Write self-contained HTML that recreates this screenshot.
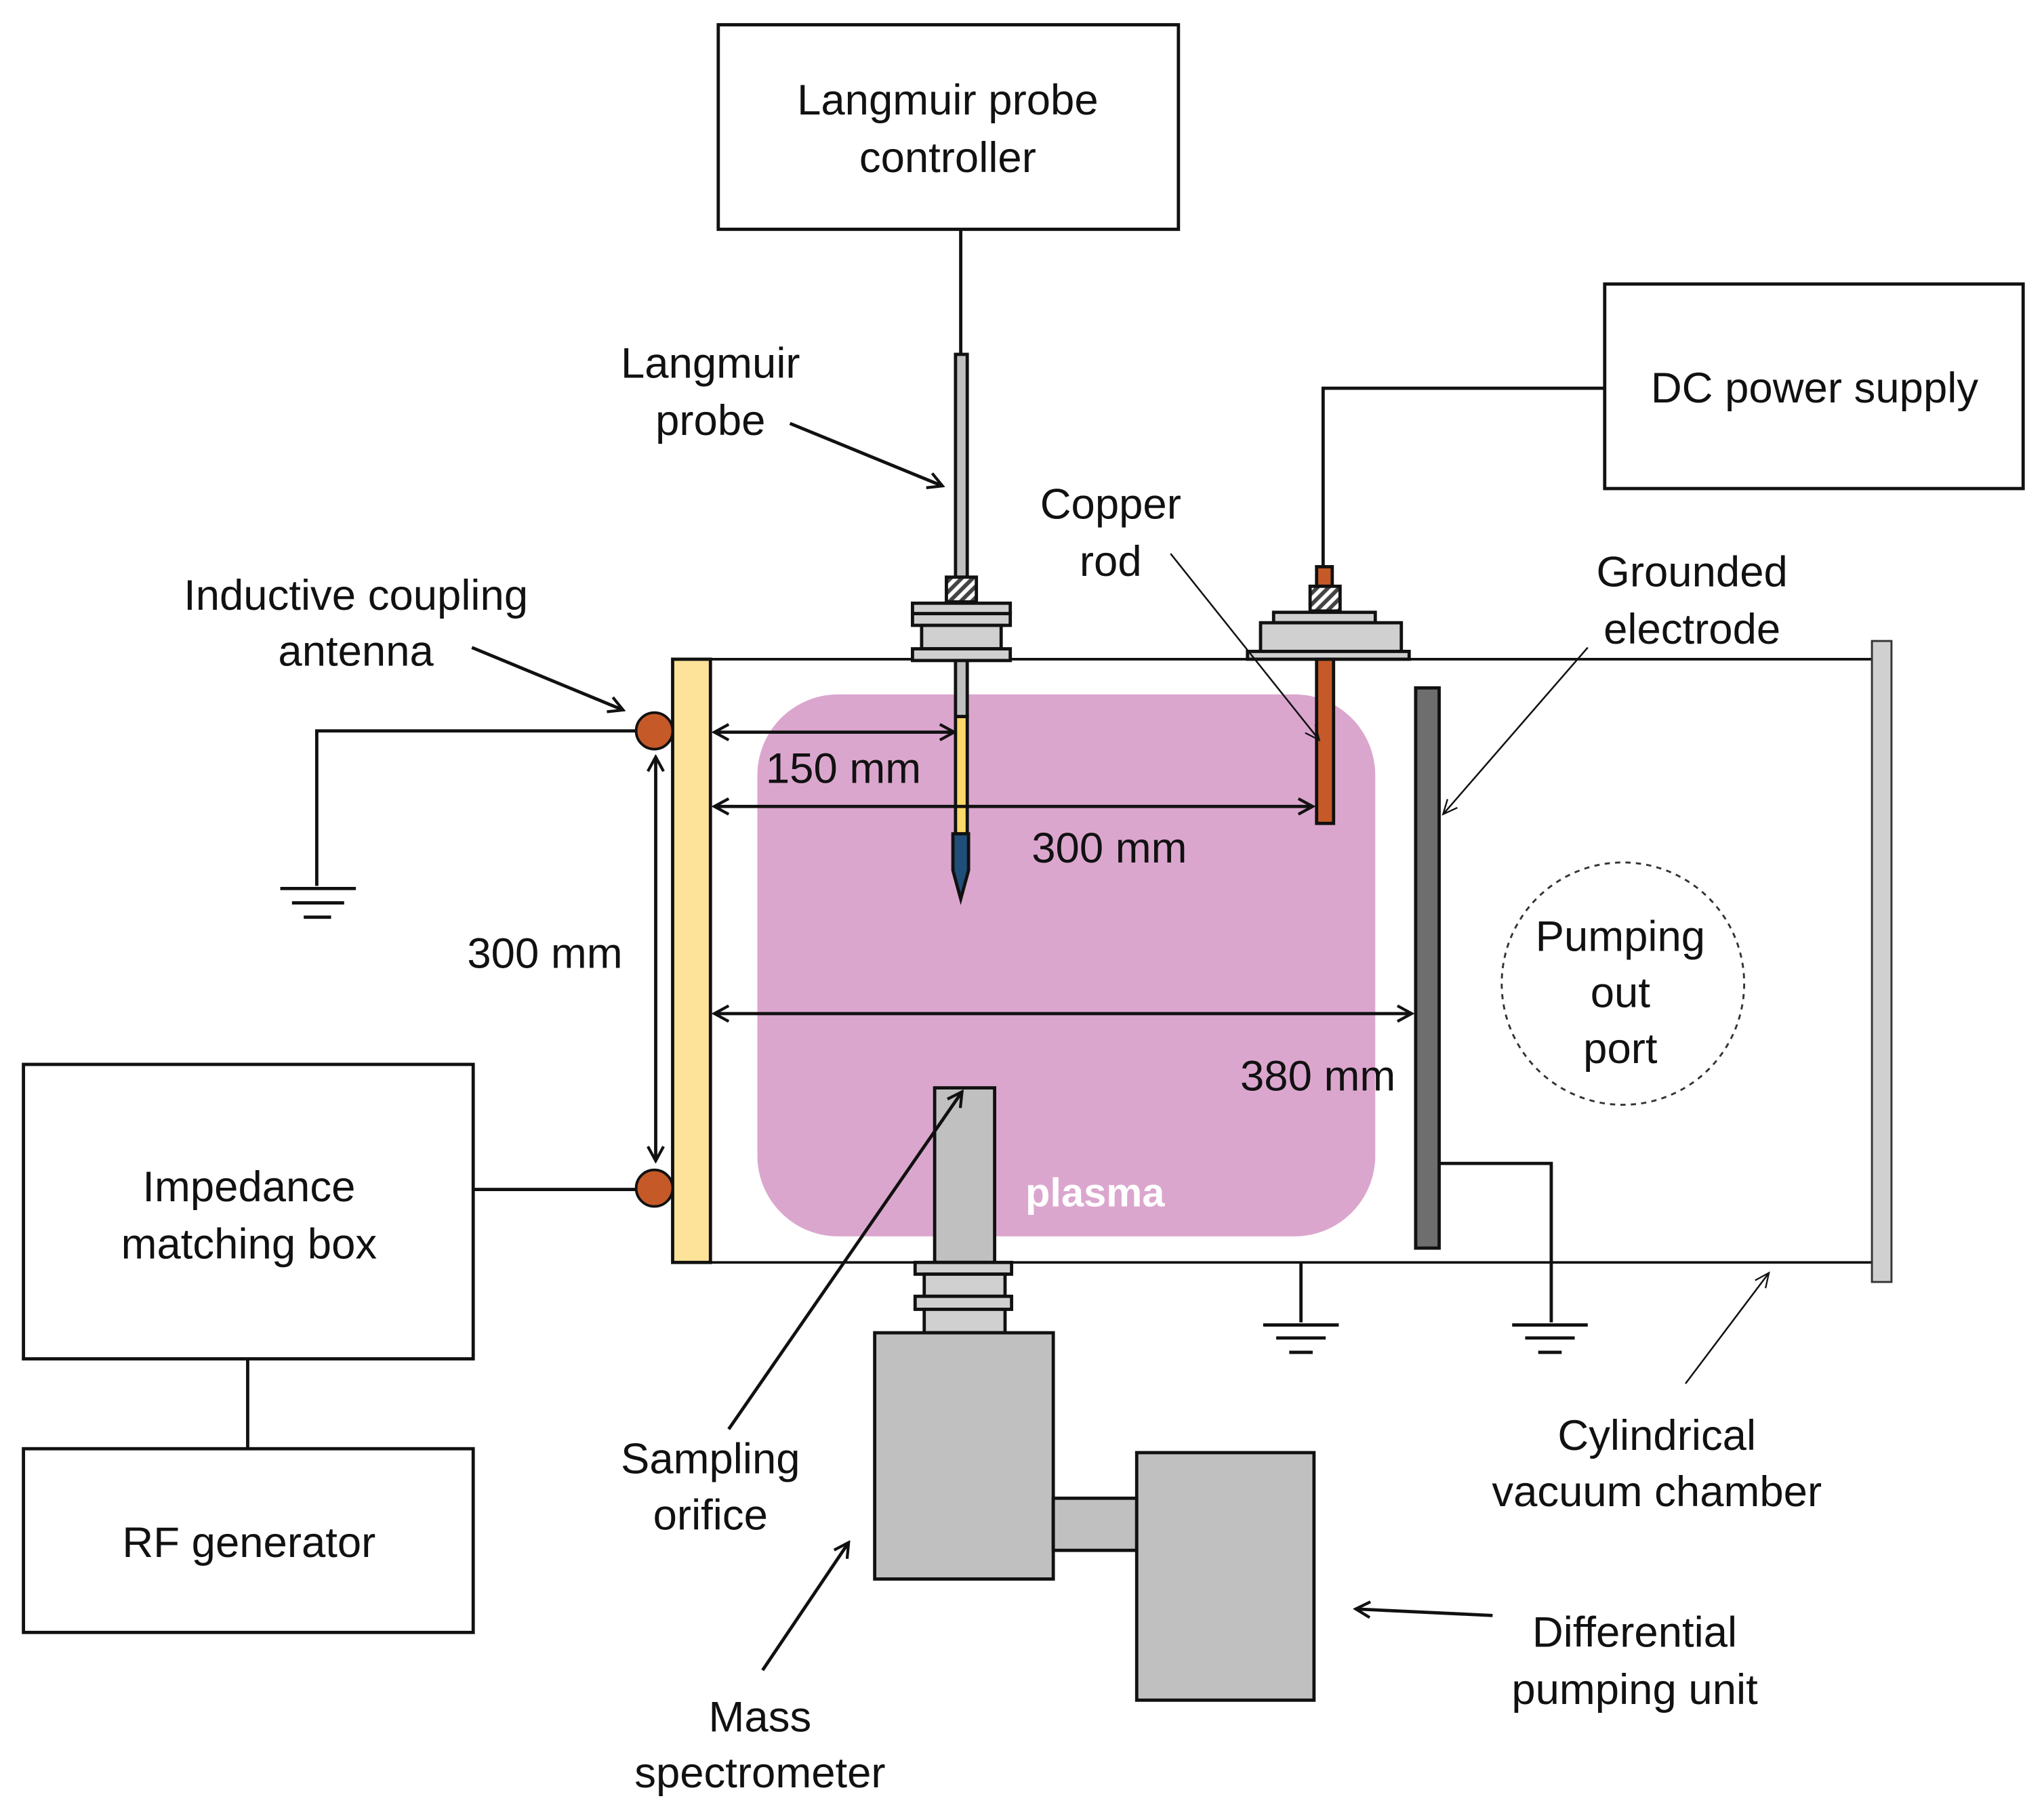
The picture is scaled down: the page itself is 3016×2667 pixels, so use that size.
<!DOCTYPE html>
<html><head><meta charset="utf-8"><style>
html,body{margin:0;padding:0;background:#fff}
svg{display:block}
text{font-family:"Liberation Sans",Arial,sans-serif;font-size:33px;fill:#111;text-anchor:middle}
</style></head><body>
<svg width="3016" height="2667" viewBox="0 0 1568 1387" preserveAspectRatio="none" xmlns="http://www.w3.org/2000/svg">
<defs>
<marker id="a" markerWidth="14" markerHeight="14" refX="12" refY="7" orient="auto-start-reverse" markerUnits="userSpaceOnUse"><path d="M1,1 L12,7 L1,13" fill="none" stroke="#111" stroke-width="2.2"/></marker>
<marker id="b" markerWidth="14" markerHeight="14" refX="12" refY="7" orient="auto" markerUnits="userSpaceOnUse"><path d="M1,2 L12,7 L1,12" fill="none" stroke="#111" stroke-width="1.2"/></marker>
<pattern id="h" width="6" height="6" patternUnits="userSpaceOnUse" patternTransform="rotate(45)"><rect width="6" height="6" fill="#fff"/><rect width="3" height="6" fill="#444"/></pattern>
</defs>
<!-- plasma -->
<rect x="581" y="533" width="474" height="416" rx="62" fill="#DBA6CE"/>
<text x="840" y="926" style="fill:#fff;font-weight:bold;font-size:31px">plasma</text>
<!-- chamber -->
<line x1="545" y1="506" x2="1437" y2="506" stroke="#111" stroke-width="2"/>
<line x1="545" y1="969" x2="1437" y2="969" stroke="#111" stroke-width="2"/>
<rect x="1436" y="492" width="15" height="492" fill="#d0d0d0" stroke="#333" stroke-width="1.5"/>
<rect x="516" y="506" width="29" height="463" fill="#FDE29A" stroke="#111" stroke-width="2.5"/>
<!-- boxes -->
<g fill="none" stroke="#111" stroke-width="2.5">
<rect x="551" y="19" width="353" height="157"/>
<rect x="1231" y="218" width="321" height="157"/>
<rect x="18" y="817" width="345" height="226"/>
<rect x="18" y="1112" width="345" height="141"/>
</g>
<g fill="none" stroke="#111" stroke-width="2.5">
<path d="M737,176 V272"/>
<path d="M1231,298 H1015 V435"/>
<path d="M488,561 H243 V680"/>
<path d="M363,913 H488"/>
<path d="M190,1043 V1112"/>
<path d="M1104,893 H1190 V1015"/>
<path d="M998,969 V1015"/>
<path d="M215,682 H273 M224,693 H264 M233,704 H254"/>
<path d="M969,1017 H1027 M979,1027 H1017 M989,1038 H1007"/>
<path d="M1160,1017 H1218 M1170,1027 H1208 M1180,1038 H1198"/>
</g>
<!-- langmuir probe -->
<g stroke="#111" stroke-width="2.5">
<rect x="733" y="272" width="9" height="171" fill="#c0c0c0"/>
<rect x="726" y="443" width="23" height="19" fill="url(#h)"/>
<rect x="700" y="463" width="75" height="8" fill="#d0d0d0"/>
<rect x="700" y="471" width="75" height="9" fill="#d0d0d0"/>
<rect x="707" y="480" width="61" height="18" fill="#d0d0d0"/>
<rect x="700" y="498" width="75" height="9" fill="#d0d0d0"/>
<rect x="733" y="507" width="9" height="43" fill="#c0c0c0"/>
<rect x="733" y="550" width="9" height="90" fill="#FDD96A"/>
<path d="M731,640 H743 V668 L737,690 L731,668 Z" fill="#1F4E79"/>
</g>
<!-- copper rod -->
<g stroke="#111" stroke-width="2.5">
<rect x="1010" y="435" width="12" height="15" fill="#C55A28"/>
<rect x="1005" y="450" width="23" height="19" fill="url(#h)"/>
<rect x="977" y="470" width="78" height="8" fill="#d0d0d0"/>
<rect x="967" y="478" width="108" height="22" fill="#d0d0d0"/>
<rect x="957" y="500" width="124" height="6" fill="#d0d0d0"/>
<rect x="1010" y="506" width="13" height="126" fill="#C55A28"/>
</g>
<!-- grounded electrode -->
<rect x="1086" y="528" width="18" height="430" fill="#6E6E6E" stroke="#111" stroke-width="2.5"/>
<!-- circles -->
<circle cx="502" cy="561" r="14" fill="#C55A28" stroke="#111" stroke-width="2"/>
<circle cx="502" cy="912" r="14" fill="#C55A28" stroke="#111" stroke-width="2"/>
<!-- pumping port -->
<circle cx="1245" cy="755" r="93" fill="none" stroke="#333" stroke-width="1.5" stroke-dasharray="4,4"/>
<!-- mass spec -->
<g stroke="#111" stroke-width="2.5" fill="#c0c0c0">
<rect x="717" y="835" width="46" height="134"/>
<rect x="702" y="969" width="74" height="9" fill="#d0d0d0"/>
<rect x="709" y="978" width="62" height="17" fill="#d0d0d0"/>
<rect x="702" y="995" width="74" height="10" fill="#d0d0d0"/>
<rect x="709" y="1005" width="62" height="18" fill="#d0d0d0"/>
<rect x="671" y="1023" width="137" height="189"/>
<rect x="808" y="1150" width="64" height="40"/>
<rect x="872" y="1115" width="136" height="190"/>
</g>
<!-- dimension arrows -->
<g stroke="#111" stroke-width="2.5" fill="none" marker-start="url(#a)" marker-end="url(#a)">
<line x1="548" y1="562" x2="732" y2="562"/>
<line x1="548" y1="619" x2="1007" y2="619"/>
<line x1="548" y1="778" x2="1083" y2="778"/>
<line x1="503" y1="581" x2="503" y2="891"/>
</g>
<!-- pointer arrows -->
<g stroke="#111" stroke-width="2.5" fill="none" marker-end="url(#a)">
<line x1="362" y1="497" x2="478" y2="545"/>
<line x1="606" y1="325" x2="723" y2="373"/>
<line x1="559" y1="1097" x2="738" y2="838"/>
<line x1="585" y1="1282" x2="651" y2="1184"/>
<line x1="1145" y1="1240" x2="1040" y2="1235"/>
</g>
<g stroke="#111" stroke-width="1.3" fill="none" marker-end="url(#b)">
<line x1="898" y1="425" x2="1012" y2="568"/>
<line x1="1218" y1="497" x2="1107" y2="625"/>
<line x1="1293" y1="1062" x2="1357" y2="977"/>
</g>
<!-- texts -->
<text x="727" y="88">Langmuir probe</text>
<text x="727" y="132">controller</text>
<text x="1392" y="309">DC power supply</text>
<text x="545" y="290">Langmuir</text>
<text x="545" y="334">probe</text>
<text x="852" y="398">Copper</text>
<text x="852" y="442">rod</text>
<text x="273" y="468">Inductive coupling</text>
<text x="273" y="511">antenna</text>
<text x="1298" y="450">Grounded</text>
<text x="1298" y="494">electrode</text>
<text x="647" y="601">150 mm</text>
<text x="851" y="662">300 mm</text>
<text x="418" y="743">300 mm</text>
<text x="1011" y="837">380 mm</text>
<text x="1243" y="730">Pumping</text>
<text x="1243" y="773">out</text>
<text x="1243" y="816">port</text>
<text x="191" y="922">Impedance</text>
<text x="191" y="966">matching box</text>
<text x="191" y="1195">RF generator</text>
<text x="545" y="1131">Sampling</text>
<text x="545" y="1174">orifice</text>
<text x="583" y="1329">Mass</text>
<text x="583" y="1372">spectrometer</text>
<text x="1254" y="1264">Differential</text>
<text x="1254" y="1308">pumping unit</text>
<text x="1271" y="1113">Cylindrical</text>
<text x="1271" y="1156">vacuum chamber</text>
</svg>
</body></html>
